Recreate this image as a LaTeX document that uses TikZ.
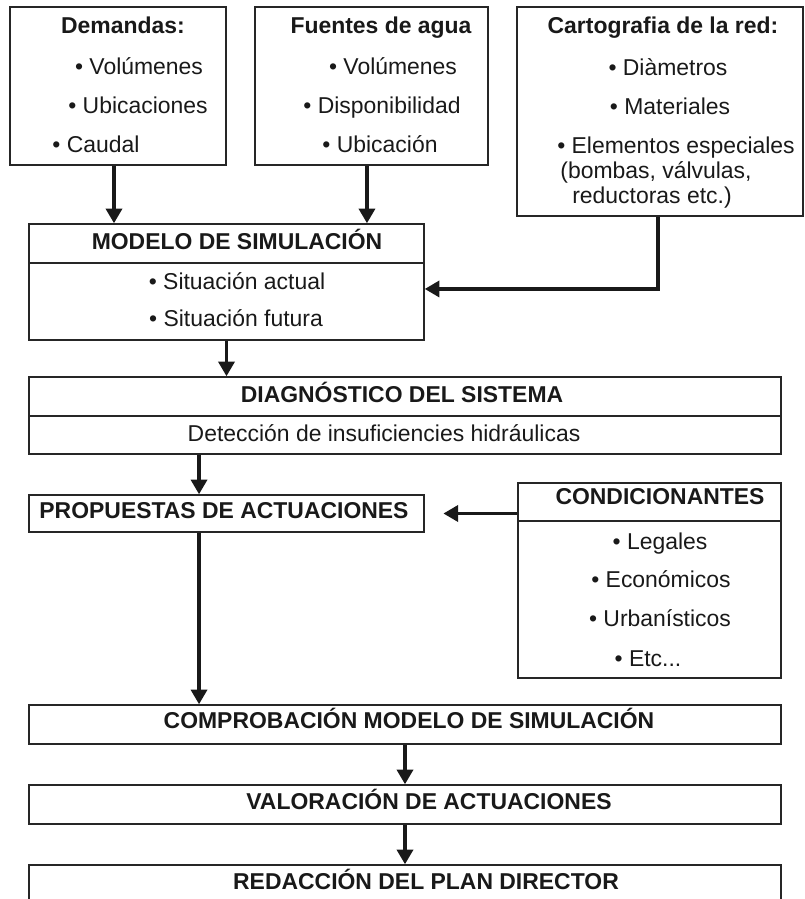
\documentclass[tikz,border=0pt]{standalone}
\usepackage{fontspec}
\setmainfont{Liberation Sans}
\usetikzlibrary{arrows.meta,positioning,calc}

\begin{document}
\begin{tikzpicture}[x=0.75pt,y=-0.75pt,
  font=\fontsize{17.2pt}{20pt}\selectfont,
  box/.style={draw=black!85,line width=1.1pt,inner sep=0pt},
  txt/.style={inner sep=0pt,text height=0.72em,text depth=0pt,text=black!90},
  ttl/.style={txt,font=\fontsize{17.2pt}{20pt}\selectfont\bfseries},
  flow/.style={-{Triangle[length=11pt,width=12pt]},line width=2.6pt,black!90}]
  \useasboundingbox (0,0) rectangle (805,899);
  % Input boxes
  \node[box,minimum width=162pt,minimum height=118.5pt] (dem) at (118,86) {};
  \node[ttl] (demT) at (123,29) {Demandas:};
  \node[txt] (demA) at (139,70) {• Volúmenes};
  \node[txt] (demB) at (138,109) {• Ubicaciones};
  \node[txt] (demC) at (96,148) {• Caudal};
  \node[box,minimum width=174.75pt,minimum height=118.5pt] (fue) at (371.5,86) {};
  \node[ttl] (fueT) at (381,29) {Fuentes de agua};
  \node[txt] (fueA) at (393,70) {• Volúmenes};
  \node[txt] (fueB) at (382,109) {• Disponibilidad};
  \node[txt] (fueC) at (380,148) {• Ubicación};
  \node[box,minimum width=214.5pt,minimum height=156.75pt] (car) at (660,111.5) {};
  \node[ttl] (carT) at (663,29) {Cartografia de la red:};
  \node[txt] (carA) at (668,71) {• Diàmetros};
  \node[txt] (carB) at (670,110) {• Materiales};
  \node[txt] (carC) at (676,149) {• Elementos especiales};
  \node[txt] (carD) at (656,174) {(bombas, válvulas,};
  \node[txt] (carE) at (652,199) {reductoras etc.)};
  % Simulation model
  \node[box,minimum width=296.25pt,minimum height=29.25pt] (modH) at (226.5,243.5) {};
  \node[box,minimum width=296.25pt,minimum height=57.75pt] (modB) at (226.5,301.5) {};
  \node[ttl] (modT) at (237,245) {MODELO DE SIMULACIÓN};
  \node[txt] (modA) at (237,285) {• Situación actual};
  \node[txt] (modC) at (236,322) {• Situación futura};
  % Diagnosis
  \node[box,minimum width=564pt,minimum height=29.25pt] (diaH) at (405,396.5) {};
  \node[box,minimum width=564pt,minimum height=28.5pt] (diaB) at (405,435) {};
  \node[ttl] (diaT) at (402,398) {DIAGNÓSTICO DEL SISTEMA};
  \node[txt] (diaA) at (384,437) {Detección de insuficiencies hidráulicas};
  % Proposals and constraints
  \node[box,minimum width=296.25pt,minimum height=27.75pt] (pro) at (226.5,513.5) {};
  \node[ttl] (proT) at (224,514) {PROPUESTAS DE ACTUACIONES};
  \node[box,minimum width=197.25pt,minimum height=28.5pt] (conH) at (649.5,502) {};
  \node[box,minimum width=197.25pt,minimum height=117.75pt] (conB) at (649.5,599.5) {};
  \node[ttl] (conT) at (660,500) {CONDICIONANTES};
  \node[txt] (conA) at (660,545) {• Legales};
  \node[txt] (conC) at (661,583) {• Económicos};
  \node[txt] (conD) at (660,622) {• Urbanísticos};
  \node[txt] (conE) at (648,662) {• Etc...};
  % Final steps
  \node[box,minimum width=564pt,minimum height=29.25pt] (com) at (405,724.5) {};
  \node[ttl] (comT) at (409,724) {COMPROBACIÓN MODELO DE SIMULACIÓN};
  \node[box,minimum width=564pt,minimum height=29.25pt] (val) at (405,804.5) {};
  \node[ttl] (valT) at (429,805) {VALORACIÓN DE ACTUACIONES};
  \node[box,minimum width=564pt,minimum height=29.25pt] (red) at (405,884.5) {};
  \node[ttl] (redT) at (426,885) {REDACCIÓN DEL PLAN DIRECTOR};
  % Connectors
  \draw[flow] ([xshift=-3pt]dem.south) -- ([xshift=-3pt]dem.south |- modH.north);
  \draw[flow] ([xshift=-3.4pt]fue.south) -- ([xshift=-3.4pt]fue.south |- modH.north);
  \draw[flow] ([xshift=-1.5pt]car.south) |- ([yshift=9.4pt]modB.east);
  \draw[flow] (modB.south) -- (modB.south |- diaH.north);
  \draw[flow] ([xshift=-20.6pt]pro.north |- diaB.south) -- ([xshift=-20.6pt]pro.north);
  \draw[flow,shorten >=14pt] (conH.west |- pro.east) -- (pro.east);
  \draw[flow] ([xshift=-20.6pt]pro.south) -- ([xshift=-20.6pt]pro.south |- com.north);
  \draw[flow] (com.south) -- (val.north);
  \draw[flow] (val.south) -- (red.north);
\end{tikzpicture}
\end{document}
